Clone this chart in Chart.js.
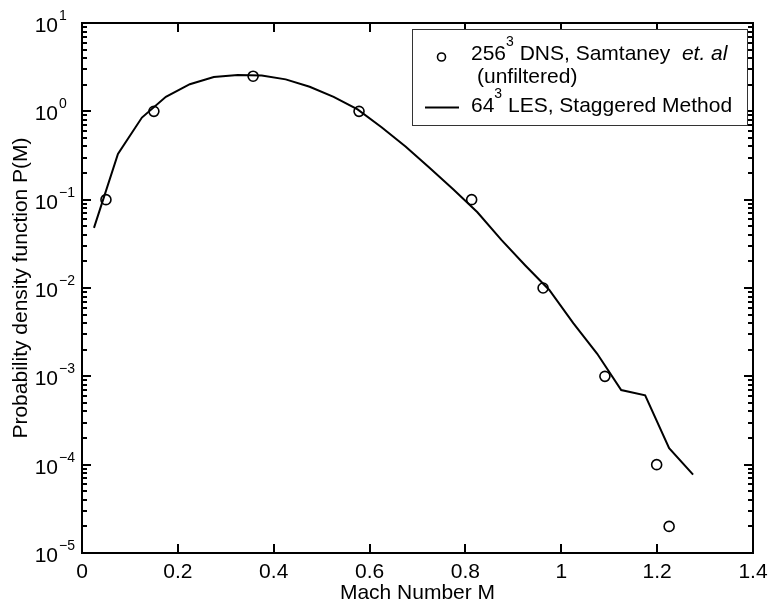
<!DOCTYPE html>
<html>
<head>
<meta charset="utf-8">
<script src="https://cdn.jsdelivr.net/npm/chart.js@4"></script>
<style>
  html, body { margin: 0; padding: 0; background: #fff; }
  #c { display: block; }
</style>
</head>
<body>
<canvas id="c" width="770" height="605"></canvas>
<script>
// LES 64^3 staggered method (line)
const lesMach = [0.025, 0.075, 0.125, 0.175, 0.225, 0.275, 0.325, 0.375, 0.425, 0.475,
                 0.525, 0.575, 0.625, 0.675, 0.725, 0.775, 0.825, 0.875, 0.925, 0.975,
                 1.025, 1.075, 1.125, 1.175, 1.225, 1.275];
const lesPdf = [0.048, 0.33, 0.85, 1.46, 2.03, 2.45, 2.57, 2.55, 2.3, 1.9,
                1.46, 1.05, 0.66, 0.40, 0.23, 0.13, 0.072, 0.035, 0.018, 0.0095,
                0.0040, 0.0018, 0.0007, 0.00061, 0.000154, 0.000077];

// DNS 256^3, Samtaney et al (circles)
const dnsMach = [0.05, 0.15, 0.357, 0.578, 0.813, 0.962, 1.091, 1.199, 1.225];
const dnsPdf = [0.1, 1.0, 2.5, 1.0, 0.1, 0.01, 0.001, 0.0001, 0.00002];

const xTicks = [0, 0.2, 0.4, 0.6, 0.8, 1, 1.2, 1.4];
const yExps = [1, 0, -1, -2, -3, -4, -5];

const FONT = '"Liberation Sans", Arial, Helvetica, sans-serif';

// ejes, marcas y leyenda al estilo matlab
const matlabAxes = {
    id: 'matlabAxes',
    afterDraw(chart) {
        const g = chart.ctx;
        const a = chart.chartArea;
        const xs = chart.scales.x, ys = chart.scales.y;
        g.save();
        g.strokeStyle = '#000';
        g.fillStyle = '#000';
        g.lineWidth = 2;
        g.strokeRect(a.left, a.top, a.right - a.left, a.bottom - a.top);

        // marcas hacia dentro
        xTicks.forEach(v => {
            const px = Math.round(xs.getPixelForValue(v));
            g.fillRect(px - 1, a.bottom - 9, 2, 9);
            g.fillRect(px - 1, a.top, 2, 9);
        });
        yExps.forEach(e => {
            const py = Math.round(ys.getPixelForValue(Math.pow(10, e)));
            g.fillRect(a.left, py - 1, 9, 2);
            g.fillRect(a.right - 9, py - 1, 9, 2);
            if (e > -5) {
                for (let k = 2; k <= 9; k++) {
                    const my = Math.round(ys.getPixelForValue(k * Math.pow(10, e - 1)));
                    g.fillRect(a.left, my - 1, 5, 2);
                    g.fillRect(a.right - 5, my - 1, 5, 2);
                }
            }
        });

        // etiquetas x
        g.font = '21px ' + FONT;
        g.textAlign = 'center';
        g.textBaseline = 'alphabetic';
        xTicks.forEach(v => {
            g.fillText(String(v), xs.getPixelForValue(v), 578);
        });

        // etiquetas y
        yExps.forEach(e => {
            const py = ys.getPixelForValue(Math.pow(10, e));
            g.font = '21px ' + FONT;
            g.textAlign = 'right';
            g.fillText('10', 58, py + 9);
            g.font = '14px ' + FONT;
            g.textAlign = 'left';
            g.fillText(e < 0 ? '\u2212' + (-e) : String(e), 59, py - 3);
        });

        // titulos de ejes
        g.font = '21px ' + FONT;
        g.textAlign = 'center';
        g.fillText('Mach Number M', (a.left + a.right) / 2, 599);
        g.save();
        g.translate(27, (a.top + a.bottom) / 2);
        g.rotate(-Math.PI / 2);
        g.fillText('Probability density function P(M)', 0, 0);
        g.restore();

        // leyenda
        g.fillStyle = '#fff';
        g.fillRect(412, 29.5, 335, 96);
        g.strokeStyle = '#333';
        g.lineWidth = 1;
        g.strokeRect(412.5, 29.5, 335, 96);
        g.strokeStyle = '#000';
        g.lineWidth = 1.6;
        g.beginPath();
        g.arc(441.5, 57, 4, 0, Math.PI * 2);
        g.stroke();
        g.lineWidth = 2;
        g.beginPath();
        g.moveTo(425, 107.5); g.lineTo(459, 107.5);
        g.stroke();

        g.fillStyle = '#000';
        g.textAlign = 'left';
        let tx = 471;
        g.font = '21px ' + FONT;
        g.fillText('256', tx, 60);
        tx += g.measureText('256').width;
        g.font = '14px ' + FONT;
        g.fillText('3', tx, 46);
        tx += g.measureText('3').width;
        g.font = '21px ' + FONT;
        g.fillText(' DNS, Samtaney', tx, 60);
        tx += g.measureText(' DNS, Samtaney  ').width;
        g.font = 'italic 21px ' + FONT;
        g.fillText('et. al', tx, 60);
        g.font = '21px ' + FONT;
        g.fillText('(unfiltered)', 477, 83);

        tx = 471;
        g.fillText('64', tx, 111.5);
        tx += g.measureText('64').width;
        g.font = '14px ' + FONT;
        g.fillText('3', tx, 97.5);
        tx += g.measureText('3').width;
        g.font = '21px ' + FONT;
        g.fillText(' LES, Staggered Method', tx, 111.5);
        g.restore();
    }
};

new Chart(document.getElementById('c'), {
    type: 'line',
    data: {
        datasets: [
            {
                label: '64^3 LES, Staggered Method',
                data: lesMach.map((m, i) => ({ x: m, y: lesPdf[i] })),
                borderColor: '#000',
                borderWidth: 2,
                pointRadius: 0,
                fill: false,
                tension: 0,
                order: 2
            },
            {
                label: '256^3 DNS, Samtaney et. al (unfiltered)',
                data: dnsMach.map((m, i) => ({ x: m, y: dnsPdf[i] })),
                showLine: false,
                pointRadius: 5,
                pointBorderWidth: 1.6,
                pointBorderColor: '#000',
                pointBackgroundColor: 'rgba(0,0,0,0)',
                order: 1
            }
        ]
    },
    options: {
        responsive: false,
        animation: false,
        devicePixelRatio: 1,
        layout: { padding: { left: 82, right: 17, top: 23, bottom: 52 } },
        plugins: { legend: { display: false }, tooltip: { enabled: false } },
        scales: {
            x: { type: 'linear', min: 0, max: 1.4, display: false },
            y: { type: 'logarithmic', min: 1e-5, max: 10, display: false }
        }
    },
    plugins: [matlabAxes]
});
</script>
</body>
</html>
